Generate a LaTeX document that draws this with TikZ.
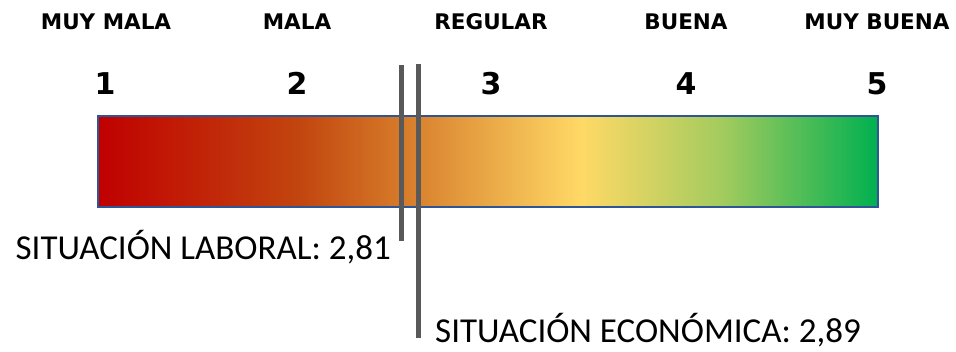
\documentclass[tikz,border=0pt]{standalone}
\usepackage{fontspec}
\setmainfont{Carlito}
\newfontfamily\headfont{DejaVu Sans}
\usetikzlibrary{positioning}

\definecolor{barred}{HTML}{C00000}
\definecolor{barrust}{HTML}{C2460F}
\definecolor{barorange}{HTML}{D67B2A}
\definecolor{baryellow}{HTML}{FFD966}
\definecolor{barlime}{HTML}{A3CB5E}
\definecolor{bargreen}{HTML}{00B050}
\definecolor{barframe}{HTML}{2F5597}
\definecolor{markgray}{HTML}{595959}

\pgfdeclarehorizontalshading{ratingbar}{100bp}{color(0bp)=(barred); color(25bp)=(barred); color(38bp)=(barrust); color(44.5bp)=(barorange); color(56bp)=(baryellow); color(65bp)=(barlime); color(75bp)=(bargreen); color(100bp)=(bargreen)}

\tikzset{
  header/.style={font=\headfont\bfseries\fontsize{21.5}{24}\selectfont, anchor=base, inner sep=0pt},
  score/.style={font=\headfont\bfseries\fontsize{30}{33}\selectfont, anchor=base, inner sep=0pt},
  marker/.style={draw=markgray, line width=5pt},
  result/.style={font=\fontsize{35}{39}\selectfont, inner sep=0pt}
}

\begin{document}
\begin{tikzpicture}[x=1pt,y=-1pt]
  \useasboundingbox (0,0) rectangle (956,352);

  % Draw the coloured scale
  \shade[shading=ratingbar, draw=barframe, line width=2pt] (98,116) rectangle (878,207);

  % Draw the headers and the numbers above the scale
  \node[header] (h1) at (106,30) {MUY MALA};
  \node[header] (h2) at (297,30) {MALA};
  \node[header] (h3) at (491,30) {REGULAR};
  \node[header] (h4) at (686,30) {BUENA};
  \node[header] (h5) at (877,30) {MUY BUENA};

  \foreach \i/\x in {1/105, 2/297, 3/491, 4/686, 5/877}
    \node[score] (n\i) at (\x,95) {\i};

  % Define the end points of the two markers
  \coordinate (labtop) at (401,65);
  \coordinate (labbot) at (401,241);
  \coordinate (ecotop) at (418,64);
  \coordinate (ecobot) at (418,338);

  % Draw the markers
  \draw[marker] (labtop) -- (labbot);
  \draw[marker] (ecotop) -- (ecobot);

  % Draw the two results
  \node[result, anchor=base east] (laboral) at (391,260) {SITUACIÓN LABORAL: 2,81};
  \node[result, anchor=base west] (economica) at (435,343) {SITUACIÓN ECONÓMICA: 2,89};
\end{tikzpicture}
\end{document}
